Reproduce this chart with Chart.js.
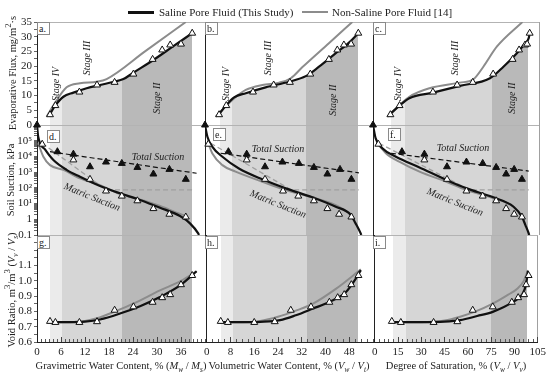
<!DOCTYPE html>
<html>
<head>
<meta charset="utf-8">
<script src="https://cdn.jsdelivr.net/npm/chart.js@4.4.1/dist/chart.umd.min.js"></script>
<style>
  body { margin: 0; background: #fff; }
  #fig { position: relative; width: 550px; height: 379px; overflow: hidden; font-family: "Liberation Serif", serif; color: #222; }
  #fig canvas { position: absolute; }
  .txt { position: absolute; white-space: nowrap; transform: translate(-50%, -50%); line-height: 1; }
  .tag { position: absolute; width: 13px; height: 13px; box-sizing: border-box; border: 1px solid #8a8a8a; background: #fff;
         font-size: 10px; line-height: 11px; padding-left: 1px; z-index: 2; }
  .key { position: absolute; height: 2px; }
  i sub, i sup { font-size: 70%; }
</style>
</head>
<body>
<div id="fig"></div>
<script>
// ---- data ----
// water content of the flux / void ratio samples in each column
const gravSample = [3.25, 4.6, 10.6, 15.0, 19.4, 24.1, 28.9, 31.3, 33.3, 36.0, 38.8];
const volSample = [4.7, 7.1, 16.0, 22.9, 28.3, 35.1, 41.3, 44.1, 46.3, 48.7, 51.1];
const satSample = [11.0, 16.8, 37.9, 53.2, 63.1, 76.0, 88.3, 92.4, 96.2, 97.5, 99.1];
const fluxValues = [3.5, 6.6, 11.2, 13.6, 14.5, 17.3, 22.3, 25.5, 27.2, 27.5, 31.2];
const voidValues = [0.735, 0.728, 0.728, 0.733, 0.808, 0.83, 0.86, 0.89, 0.91, 0.975, 1.035];

// total suction (filled triangles)
const gravTotal = [0, 5.1, 9.1, 13.25, 17.25, 21.2, 25.1, 29.1, 33.1, 37.2];
const volTotal = [0, 7.8, 13.9, 20.0, 25.8, 31.3, 36.3, 40.8, 45.0, 48.8];
const satTotal = [0, 18.3, 32.5, 46.8, 59.1, 69.4, 77.9, 84.2, 89.3, 94.2];
const totalSuction = [1e6, 2e4, 1.4e4, 2.2e3, 4.4e3, 3.6e3, 2e3, 760, 1.5e3, 350];

// matric suction (open triangles)
const gravMatric = [1.3, 9.1, 13.25, 17.25, 21.2, 25.1, 29.1, 33.1, 37.2];
const volMatric = [1.1, 13.9, 20.0, 26.0, 31.1, 36.3, 40.8, 44.7, 48.8];
const satMatric = [3.4, 32.5, 46.8, 59.1, 69.4, 77.9, 84.2, 89.3, 94.2];
const matricSuction = [6e4, 6e3, 350, 63, 30, 15, 4.8, 2.1, 1.4];

// fitted curves, [x, y]
const fluxFitGrav = [[3.2, 3.6], [4.5, 6.5], [6.6, 9.6], [9.1, 11.0], [12.4, 12.5], [15.75, 13.6], [19.3, 14.7], [21.6, 15.6], [24.1, 17.8], [29.1, 22.1], [34.1, 26.8], [38.8, 31.2]];
const fluxFitVol = [[4.6, 3.6], [6.9, 6.5], [9.7, 9.4], [13.6, 10.8], [20.2, 12.8], [28.0, 14.7], [33.6, 16.6], [38.0, 19.8], [43.6, 24.4], [48.0, 28.0], [51.1, 31.2]];
const fluxFitSat = [[10.2, 3.4], [16.6, 6.5], [23, 9.1], [37.9, 11], [54.9, 13.3], [74, 15.9], [82.5, 19.8], [91, 24.4], [95.3, 27.2], [98.5, 29.5], [99.1, 31.2]];
const fluxRefGrav = [[2.4, 2.8], [4.5, 7.5], [7.4, 12.8], [10.75, 14.2], [14.9, 14.7], [17.4, 15.6], [27, 25], [37.2, 35]];
const fluxRefVol = [[3.6, 2.8], [9.1, 8.5], [13.6, 11.9], [19.1, 13.6], [24.7, 14.4], [28.6, 15.9], [32.4, 19.6], [41.3, 27.8], [49.1, 35]];
const fluxRefSat = [[9.1, 2.8], [23, 9.6], [35.7, 12.5], [54.9, 14.4], [63.4, 15.5], [69.8, 19.8], [78.3, 26.6], [94.5, 35]];

const matricFitGrav = [[0, 1e6], [0.3, 1.8e5], [2, 2.8e4], [4.1, 5.9e3], [7.4, 1.4e3], [10.75, 510], [15.75, 132], [20.75, 45], [25.75, 17], [30.75, 5.5], [35.75, 1.6], [38.25, 0.55], [40.3, 0.126], [40.5, 0.1]];
const matricFitVol = [[0, 1e6], [0.8, 1.8e5], [2.4, 4.2e4], [5.8, 9.5e3], [11.3, 1.7e3], [19.1, 350], [26.9, 93], [35.8, 25], [43.6, 6.3], [48.6, 1.9], [50.2, 0.55], [51.9, 0.126], [52.1, 0.1]];
const matricFitSat = [[0, 1e6], [1.7, 1.4e5], [5.9, 3.3e4], [14.5, 9.5e3], [29.4, 2e3], [46.4, 320], [59.2, 93], [76.1, 25], [88.9, 6.3], [94.2, 1.45], [96.4, 0.43], [98.5, 0.126], [98.8, 0.1]];
const matricRefGrav = [[0.3, 6.9e4], [1.6, 9.5e3], [3.25, 2.8e3], [6.6, 1.4e3], [10.75, 400], [15.75, 150], [20.75, 40], [25.75, 18], [30.75, 7], [35.75, 2.2], [37.5, 1.6]];
const matricRefVol = [[1.1, 6.9e4], [2.4, 1.6e4], [5.8, 2.8e3], [10.2, 1.07e3], [19.1, 245], [26.9, 72], [35.8, 25], [43.6, 8], [49.1, 1.9]];
const matricRefSat = [[2.8, 6.9e4], [8.1, 1.6e4], [16.6, 4.6e3], [29.4, 1.07e3], [46.4, 245], [59.2, 72], [76.1, 22], [88.9, 6.3], [94.2, 1.6]];
const totalFitGrav = [[3.25, 2e4], [39.9, 850]];
const totalFitVol = [[5.2, 1.6e4], [51.3, 910]];
const totalFitSat = [[11.3, 1.6e4], [98.5, 1.17e3]];
const refDashGrav = [[1.3, 6.9e4], [17.3, 75], [39, 75]];
const refDashVol = [[1.9, 6.9e4], [28.7, 75], [51.3, 75]];
const refDashSat = [[3.8, 6.9e4], [61, 75], [98.5, 75]];

const voidFitGrav = [[2.8, 0.73], [8, 0.73], [12, 0.733], [15.75, 0.747], [20.75, 0.786], [25.75, 0.834], [30.75, 0.894], [35.75, 0.97], [39.9, 1.063]];
const voidFitVol = [[4, 0.73], [12, 0.73], [18, 0.732], [24.7, 0.743], [30, 0.775], [35.8, 0.819], [41.3, 0.862], [46.9, 0.927], [50.2, 1.014], [51.9, 1.07]];
const voidFitSat = [[10, 0.73], [30, 0.73], [45, 0.733], [55, 0.743], [66, 0.77], [76, 0.797], [89, 0.862], [95.3, 0.916], [97.5, 0.98], [98.7, 1.065]];
const voidRefGrav = [[2.8, 0.73], [8, 0.73], [12, 0.737], [15, 0.755], [19.5, 0.8], [24.1, 0.851], [30.75, 0.938], [36, 1.0], [39.9, 1.063]];
const voidRefVol = [[4, 0.73], [12, 0.73], [18, 0.738], [24, 0.765], [30, 0.805], [35.8, 0.851], [43.6, 0.949], [51.9, 1.075]];
const voidRefSat = [[10, 0.73], [30, 0.73], [45, 0.74], [55, 0.765], [65, 0.8], [76, 0.851], [86, 0.91], [92, 0.95], [96, 1.0], [98.7, 1.07]];

// stage boundaries (IV | III | II) per column
const gravStages = [3.25, 6.25, 21.25, 38.75];
const volStages = [4.9, 9, 33.7, 51];
const satStages = [11.5, 20.4, 75, 98.3];
const stageColors = ["#ebebeb", "#d6d6d6", "#b9b9b9"];

// tick labels
const gravTicks = [0, 6, 12, 18, 24, 30, 36];
const volTicks = [0, 8, 16, 24, 32, 40, 48];
const satTicks = [0, 15, 30, 45, 60, 75, 90, 105];
const fluxTicks = [0, 5, 10, 15, 20, 25, 30, 35];
const suctionTicks = [0.1, 1, 10, 100, 1e3, 1e4, 1e5];
const suctionLabels = ["0.1", "1", "10\u00b9", "10\u00b2", "10\u00b3", "10\u2074", "10\u2075"];
const voidTicks = [0.6, 0.7, 0.8, 0.9, 1.0, 1.1];

// ---- layout ----
const colLeft = [37, 205, 373];
const colWidth = [168, 168, 166];
const rowTop = [22, 125, 235];
const rowHeight = [103, 110, 107];
const tickFont = { family: "Liberation Serif", size: 11 };

const cols = [
  { max: 42, step: 1, labels: gravTicks, stages: gravStages, sample: gravSample, total: gravTotal, matric: gravMatric,
    fluxFit: fluxFitGrav, fluxRef: fluxRefGrav, matricFit: matricFitGrav, matricRef: matricRefGrav,
    totalFit: totalFitGrav, refDash: refDashGrav, voidFit: voidFitGrav, voidRef: voidRefGrav },
  { max: 56, step: 2, labels: volTicks, stages: volStages, sample: volSample, total: volTotal, matric: volMatric,
    fluxFit: fluxFitVol, fluxRef: fluxRefVol, matricFit: matricFitVol, matricRef: matricRefVol,
    totalFit: totalFitVol, refDash: refDashVol, voidFit: voidFitVol, voidRef: voidRefVol },
  { max: 105, step: 3, labels: satTicks, stages: satStages, sample: satSample, total: satTotal, matric: satMatric,
    fluxFit: fluxFitSat, fluxRef: fluxRefSat, matricFit: matricFitSat, matricRef: matricRefSat,
    totalFit: totalFitSat, refDash: refDashSat, voidFit: voidFitSat, voidRef: voidRefSat }
];

const pairs = (arr) => arr.map(([x, y]) => ({ x, y }));
const zip = (xs, ys) => xs.map((x, i) => ({ x, y: ys[i] }));
const near = (a, b) => Math.abs(a - b) < 1e-6;

function steps(from, to, step) {
  const out = [];
  for (let v = from; v <= to + 1e-9; v += step) out.push(Math.round(v * 1000) / 1000);
  return out;
}

function logSteps() {
  const out = [];
  for (let d = 0.1; d < 1e6; d *= 10) {
    for (let k = 1; k < 10; k++) out.push(d * k);
  }
  out.push(1e6);
  return out;
}

// hard-edged horizontal gradient that shades the stage bands
function stageGradient(chart, edges) {
  const { ctx, chartArea: a, scales } = chart;
  const w = a.right - a.left;
  const pos = (v) => Math.min(1, Math.max(0, (scales.x.getPixelForValue(v) - a.left) / w));
  const clear = "rgba(255,255,255,0)";
  const g = ctx.createLinearGradient(a.left, 0, a.right, 0);
  g.addColorStop(0, clear);
  g.addColorStop(pos(edges[0]), clear);
  for (let i = 0; i < 3; i++) {
    g.addColorStop(pos(edges[i]), stageColors[i]);
    g.addColorStop(pos(edges[i + 1]), stageColors[i]);
  }
  g.addColorStop(pos(edges[3]), clear);
  g.addColorStop(1, clear);
  return g;
}

const bandsPlugin = {
  id: "bands",
  beforeDraw(chart, args, opts) {
    if (!opts || !opts.edges) return;
    const a = chart.chartArea;
    const ctx = chart.ctx;
    ctx.save();
    ctx.fillStyle = stageGradient(chart, opts.edges);
    ctx.fillRect(a.left, a.top, a.right - a.left, a.bottom - a.top);
    ctx.restore();
  }
};

function markers(data, filled) {
  return {
    data, showLine: false, clip: false,
    pointStyle: "triangle", pointRadius: 4, pointBorderWidth: 1,
    pointBorderColor: "#111", pointBackgroundColor: filled ? "#111" : "#fff"
  };
}

function curve(data, color, width, dash) {
  return {
    data, borderColor: color, borderWidth: width, borderDash: dash || [],
    pointRadius: 0, fill: false,
    cubicInterpolationMode: dash ? "default" : "monotone", tension: 0
  };
}

function yScale(ci, ri) {
  const left = ci === 0;
  const top = [35, 1e6, 1.3][ri];
  const s = {
    position: "left",
    afterFit: (sc) => { sc.width = left ? 37 : 8; },
    border: { color: "#222", width: 1 },
    grid: {
      drawTicks: left, tickLength: 3, tickColor: "#666",
      color: (ctx) => (ctx.tick && near(ctx.tick.value, top)) ? "#b3b3b3" : "rgba(0,0,0,0)"
    },
    ticks: { display: left, padding: 2, font: tickFont, color: "#222", autoSkip: false }
  };
  if (ri === 0) {
    Object.assign(s, { type: "linear", min: 0, max: 35 });
    s.afterBuildTicks = (sc) => { sc.ticks = steps(0, 35, 2.5).map((value) => ({ value })); };
    s.ticks.callback = (v) => fluxTicks.some((t) => near(t, v)) ? String(v) : "";
  } else if (ri === 1) {
    Object.assign(s, { type: "logarithmic", min: 0.1, max: 1e6 });
    s.afterBuildTicks = (sc) => { sc.ticks = logSteps().map((value) => ({ value })); };
    s.ticks.callback = (v) => {
      const i = suctionTicks.findIndex((t) => Math.abs(t - v) / t < 1e-6);
      return i < 0 ? "" : suctionLabels[i];
    };
  } else {
    Object.assign(s, { type: "linear", min: 0.6, max: 1.3 });
    s.afterBuildTicks = (sc) => { sc.ticks = steps(0.6, 1.3, 0.05).map((value) => ({ value })); };
    s.ticks.callback = (v) => {
      const t = voidTicks.find((t) => near(t, v));
      return t === undefined ? "" : t.toFixed(1);
    };
  }
  return s;
}

// minor ticks point into the plot, as in the original figure
function xScale(ci, ri) {
  const c = cols[ci];
  const bottom = ri === 2;
  return {
    type: "linear", position: "bottom", min: 0, max: c.max,
    afterBuildTicks: (sc) => { sc.ticks = steps(0, c.max, c.step).map((value) => ({ value })); },
    afterFit: (sc) => { sc.height = bottom ? 22 : 0; },
    border: { display: bottom, color: "#222", width: 1 },
    grid: {
      drawTicks: bottom, tickLength: -3, tickColor: "#555",
      color: (ctx) => (ci === 2 && ctx.tick && near(ctx.tick.value, c.max)) ? "#a0a0a0" : "rgba(0,0,0,0)"
    },
    ticks: {
      display: bottom, autoSkip: false, maxRotation: 0, padding: 7, font: tickFont, color: "#222",
      callback: (v) => c.labels.some((t) => near(t, v)) ? String(v) : ""
    }
  };
}

// longer marks for the labelled ticks
function xMajor(ci, ri) {
  const c = cols[ci];
  const bottom = ri === 2;
  return {
    type: "linear", position: "bottom", weight: -1, min: 0, max: c.max, display: bottom,
    afterBuildTicks: (sc) => { sc.ticks = c.labels.filter((v) => v <= c.max).map((value) => ({ value })); },
    afterFit: (sc) => { sc.height = 0; },
    border: { display: false },
    grid: { drawTicks: true, tickLength: -5, tickColor: "#444", color: "rgba(0,0,0,0)" },
    ticks: { display: false }
  };
}

function datasetsFor(ci, ri) {
  const c = cols[ci];
  if (ri === 0) {
    const fit = curve(pairs(c.fluxFit), "#111", 2.2);
    fit.fill = "origin";
    fit.backgroundColor = (ctx) => ctx.chart.chartArea ? stageGradient(ctx.chart, c.stages) : "rgba(0,0,0,0)";
    return [markers(zip(c.sample, fluxValues), false), fit, curve(pairs(c.fluxRef), "#8c8c8c", 2)];
  }
  if (ri === 1) {
    return [
      markers(zip(c.total, totalSuction), true),
      markers(zip(c.matric, matricSuction), false),
      curve(pairs(c.totalFit), "#111", 1.2, [5, 3]),
      curve(pairs(c.matricFit), "#111", 2.2),
      curve(pairs(c.matricRef), "#8c8c8c", 2),
      curve(pairs(c.refDash), "#a0a0a0", 1.3, [5, 3])
    ];
  }
  return [
    markers(zip(c.sample, voidValues), false),
    curve(pairs(c.voidFit), "#111", 2.2),
    curve(pairs(c.voidRef), "#8c8c8c", 2)
  ];
}

const fig = document.getElementById("fig");

function makePanel(ci, ri) {
  const padL = ci === 0 ? 37 : 8;
  const padT = 10, padR = 14;
  const padB = ri === 2 ? 22 : 10;
  const canvas = document.createElement("canvas");
  canvas.width = padL + colWidth[ci] + padR;
  canvas.height = padT + rowHeight[ri] + padB;
  canvas.style.left = (colLeft[ci] - padL) + "px";
  canvas.style.top = (rowTop[ri] - padT) + "px";
  fig.appendChild(canvas);
  new Chart(canvas, {
    type: "line",
    data: { datasets: datasetsFor(ci, ri) },
    plugins: [bandsPlugin],
    options: {
      responsive: false, animation: false, devicePixelRatio: 1,
      layout: { padding: { top: padT, right: padR, bottom: ri === 2 ? 0 : padB, left: 0 } },
      scales: { x: xScale(ci, ri), x2: xMajor(ci, ri), y: yScale(ci, ri) },
      plugins: {
        legend: { display: false }, tooltip: { enabled: false },
        filler: { drawTime: "beforeDraw" },
        bands: { edges: ri === 0 ? null : cols[ci].stages }
      }
    }
  });
}

for (let ri = 0; ri < 3; ri++) {
  for (let ci = 0; ci < 3; ci++) makePanel(ci, ri);
}

// ---- text overlays ----
function text(html, x, y, size, extra) {
  const d = document.createElement("div");
  d.className = "txt";
  d.innerHTML = html;
  d.style.left = x + "px";
  d.style.top = y + "px";
  d.style.fontSize = size + "px";
  if (extra) Object.assign(d.style, extra);
  fig.appendChild(d);
  return d;
}
const rot = (deg) => ({ transform: "translate(-50%, -50%) rotate(" + deg + "deg)" });

// legend
[[128, "#111", "Saline Pore Fluid (This Study)", 159], [302, "#8c8c8c", "Non-Saline Pore Fluid [14]", 332]].forEach(([x, color, label, tx]) => {
  const k = document.createElement("div");
  k.className = "key";
  Object.assign(k.style, { left: x + "px", top: "11px", width: "26px", background: color, height: color === "#111" ? "2.5px" : "2px" });
  fig.appendChild(k);
  const t = text(label, tx, 12, 11);
  t.style.transform = "translate(0, -50%)";
});

// axis titles
text("Evaporative Flux, mg/m<sup>2</sup>\u00b7s", 11, 73, 10.5, rot(-90));
text("Soil Suction, kPa", 11, 180, 10.5, rot(-90));
text("Void Ratio, m<sup>3</sup>/m<sup>3</sup> (<i>V<sub>v</sub></i> / <i>V<sub>s</sub></i>)", 11, 290, 10.5, rot(-90));
text("Gravimetric Water Content, % (<i>M<sub>w</sub></i> / <i>M<sub>s</sub></i>)", 121, 367, 10.5);
text("Volumetric Water Content, % (<i>V<sub>w</sub></i> / <i>V<sub>t</sub></i>)", 289, 367, 10.5);
text("Degree of Saturation, % (<i>V<sub>w</sub></i> / <i>V<sub>v</sub></i>)", 456, 367, 10.5);

// stage labels
const stagePos = [
  [[56, 84], [87, 58], [157, 98]],
  [[226, 84], [268, 58], [333, 100]],
  [[398, 84], [455, 58], [512, 98]]
];
stagePos.forEach((p) => {
  ["Stage IV", "Stage III", "Stage II"].forEach((s, i) => text("<i>" + s + "</i>", p[i][0], p[i][1], 10, rot(-90)));
});

// suction labels
[[158, 157], [278, 149], [463, 148]].forEach(([x, y]) => text("<i>Total Suction</i>", x, y, 10));
[[92, 197], [278, 204], [455, 202]].forEach(([x, y]) => text("<i>Matric Suction</i>", x, y, 10, rot(22)));

// panel tags
[["a.", 37, 22], ["b.", 205, 22], ["c.", 373, 22],
 ["d.", 47, 130], ["e.", 213, 128], ["f.", 388, 128],
 ["g.", 37, 236], ["h.", 205, 236], ["i.", 373, 236]].forEach(([t, x, y]) => {
  const d = document.createElement("div");
  d.className = "tag";
  d.textContent = t;
  d.style.left = x + "px";
  d.style.top = y + "px";
  fig.appendChild(d);
});
</script>
</body>
</html>
